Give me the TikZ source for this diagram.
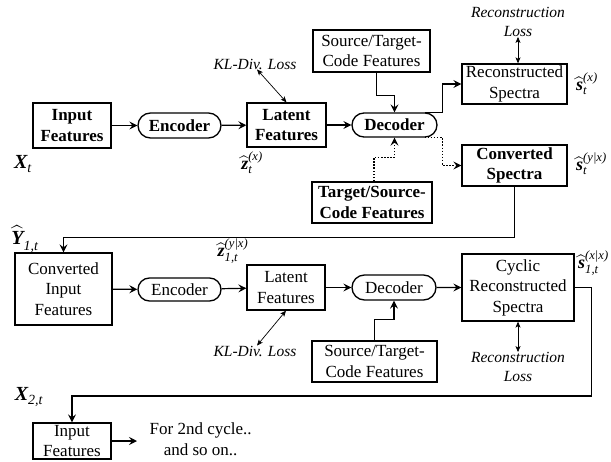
\documentclass[tikz,border=0pt]{standalone}
\usepackage{amsmath}
\usepackage{fontspec}
\setmainfont{Liberation Serif}
\usetikzlibrary{arrows.meta,shapes.misc,calc}
\newcommand\hatlbl[3]{$\widehat{\text{\bfseries\itshape #1}}_{\text{\itshape #2}}^{\text{\itshape #3}}$}
\newcommand\plainlbl[2]{$\text{\bfseries\itshape #1}_{\text{\itshape #2}}$}
\begin{document}
\begin{tikzpicture}[x=1pt,y=-1pt,
  box/.style={draw, line width=1.3pt, align=center, inner sep=0pt, font=\fontsize{17}{20.5}\selectfont},
  bbox/.style={box, font=\fontsize{17}{20.5}\selectfont\bfseries},
  pill/.style={draw, rounded rectangle, line width=1.3pt, inner sep=0pt, font=\fontsize{17}{20.5}\selectfont},
  bpill/.style={pill, font=\fontsize{17}{20.5}\selectfont\bfseries},
  conn/.style={line width=1.2pt, -{Stealth[length=8pt,width=8pt,inset=3pt]}},
  dconn/.style={conn, dash pattern=on 1.5pt off 1.6pt},
  loss/.style={line width=0.7pt, {Stealth[length=6pt,width=5pt,inset=1.5pt]}-{Stealth[length=6pt,width=5pt,inset=1.5pt]}},
  losstxt/.style={font=\fontsize{15.5}{19}\selectfont\itshape, align=center, inner sep=0pt},
  lbl/.style={font=\fontsize{18}{20}\selectfont, inner sep=0pt},
  biglbl/.style={font=\fontsize{20}{22}\selectfont, inner sep=0pt}
]
\useasboundingbox (0,0) rectangle (611,461);

% ---------- top row ----------
\node[bbox, minimum width=78pt, minimum height=45pt] (in1) at (72,125.5) {Input\\Features};
\node[bpill, minimum width=83pt, minimum height=25pt] (enc1) at (179.5,125.5) {Encoder};
\node[bbox, minimum width=79pt, minimum height=44pt] (lat1) at (286.5,125) {Latent\\Features};
\node[bpill, minimum width=85pt, minimum height=24pt] (dec1) at (394.5,125) {Decoder};
\node[box, minimum width=117pt, minimum height=42pt] (stc1) at (371.5,51) {Source/Target-\\Code Features};
\node[bbox, minimum width=120pt, minimum height=41pt] (tsc1) at (372,202.5) {Target/Source-\\Code Features};
\node[box, minimum width=105pt, minimum height=40pt] (rec1) at (514.5,84) {Reconstructed\\Spectra};
\node[bbox, minimum width=105pt, minimum height=41pt] (conv1) at (514.5,165.5) {Converted\\Spectra};

\node[losstxt] (kl1) at (255,64) {KL-Div. Loss};
\node[losstxt] (rl1) at (518,22) {Reconstruction\\Loss};

\node[biglbl] (xt) at (23,164) {\plainlbl{X}{t}};
\node[lbl] (zt) at (252,163) {\hatlbl{z}{t}{(x)}};
\node[lbl, anchor=west] (st) at (576,84) {\hatlbl{s}{t}{(x)}};
\node[lbl, anchor=west] (syx) at (576,164) {\hatlbl{s}{t}{(y|x)}};

\draw[conn] (in1) -- (enc1);
\draw[conn] (enc1) -- (lat1);
\draw[conn] (lat1) -- (dec1);
\draw[conn] ([xshift=5pt]stc1.south) -- ++(0,23) -| (dec1.north);
\draw[dconn] ([xshift=2pt]tsc1.north) -- ++(0,-24) -| (dec1.south);
\draw[conn] ($(dec1.north)+(30,0)$) -- ++(18,0) |- (rec1.west);
\draw[dconn] ($(dec1.south)+(30,0)$) -- ++(18,0) |- (conv1.west);
\draw[loss] ([xshift=2pt]kl1.south) -- (lat1.north);
\draw[loss] (rl1.south) -- (rl1.south |- rec1.north);

% ---------- middle row ----------
\node[box, minimum width=97pt, minimum height=72pt] (cin) at (63.5,289) {Converted\\Input\\Features};
\node[pill, minimum width=83pt, minimum height=23pt] (enc2) at (179.5,289.5) {Encoder};
\node[box, minimum width=78pt, minimum height=45pt] (lat2) at (286,287.5) {Latent\\Features};
\node[pill, minimum width=84pt, minimum height=25pt] (dec2) at (394,287.5) {Decoder};
\node[box, minimum width=125pt, minimum height=41pt] (stc2) at (374.5,361.5) {Source/Target-\\Code Features};
\node[box, minimum width=112pt, minimum height=67pt] (cyc) at (518,287.5) {Cyclic\\Reconstructed\\Spectra};

\node[losstxt] (kl2) at (255,351) {KL-Div. Loss};
\node[losstxt] (rl2) at (518,367) {Reconstruction\\Loss};

\node[biglbl] (y1) at (25,239) {\hatlbl{Y}{1,t}{}};
\node[lbl] (z1) at (233,251) {\hatlbl{z}{1,t}{(y|x)}};
\node[lbl, anchor=west] (s1) at (578,263) {\hatlbl{s}{1,t}{(x|x)}};

\draw[conn] (conv1.south) -- ++(0,50.5) -| (cin.north);
\draw[conn] (cin) -- (enc2);
\draw[conn] (enc2) -- (lat2);
\draw[conn] (lat2) -- (dec2);
\draw[conn] (dec2) -- (cyc);
\draw[conn] (stc2.north) -- ++(0,-21) -| (dec2.south);
\draw[loss] (lat2.south) -- ([xshift=2pt]kl2.north);
\draw[loss] (cyc.south) -- (rl2.north);

% ---------- bottom ----------
\node[box, minimum width=78pt, minimum height=36pt] (in2) at (72,441) {Input\\Features};
\node[box, draw=none, anchor=west] (cont) at (149,439) {For 2nd cycle..\\and so on..};
\node[biglbl] (x2) at (29,397) {\plainlbl{X}{2,t}};
\coordinate (e2) at (137,441);

\draw[conn] (cyc.east) -- ++(17,0) -- ++(0,108.5) -| (in2.north);
\draw[conn] (in2.east) -- (e2);
\end{tikzpicture}
\end{document}
